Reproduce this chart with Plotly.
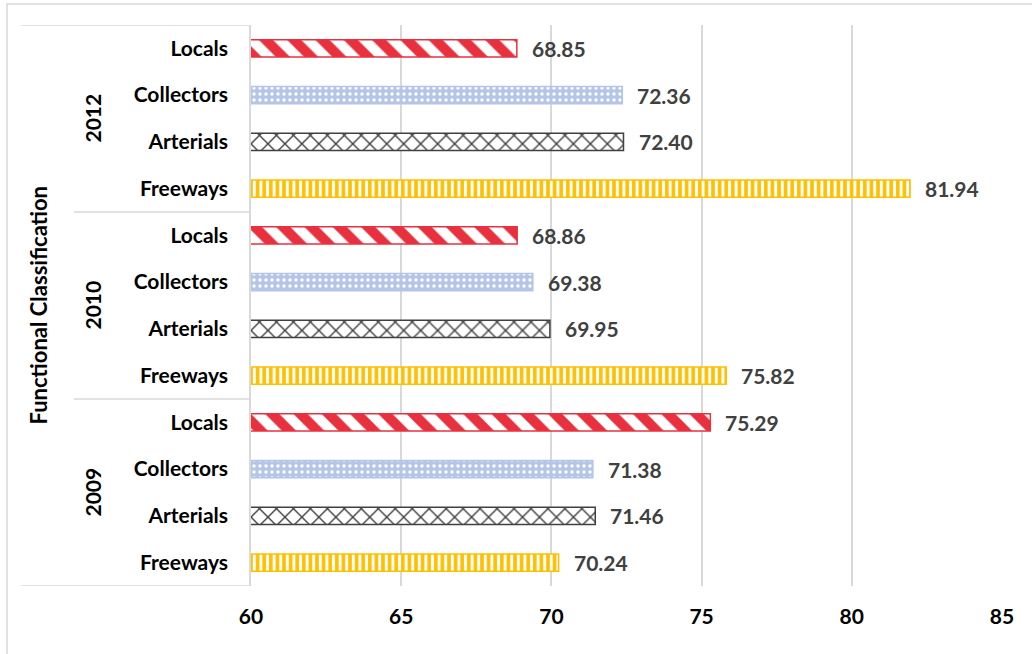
import plotly.graph_objects as go

# Functional classes (bottom to top inside each year) and the years (bottom to top)
years = ["2009", "2010", "2012"]
classes = ["Freeways", "Arterials", "Collectors", "Locals"]

values = {
    "Freeways":   [70.24, 75.82, 81.94],
    "Arterials":  [71.46, 69.95, 72.40],
    "Collectors": [71.38, 69.38, 72.36],
    "Locals":     [75.29, 68.86, 68.85],
}

x_ticks = [60, 65, 70, 75, 80, 85]

styles = {
    "Freeways":   dict(color="#FFC000", line="#FFC000",
                       pattern=dict(shape="|", fgcolor="white", bgcolor="#FFC000",
                                    size=6.6, solidity=0.45, fgopacity=1)),
    "Arterials":  dict(color="#404040", line="#404040",
                       pattern=dict(shape="x", fgcolor="#404040", bgcolor="white",
                                    size=12, solidity=0.22, fgopacity=1)),
    "Collectors": dict(color="#B4C5E7", line="#B4C5E7",
                       pattern=dict(shape=".", fgcolor="white", bgcolor="#B4C5E7",
                                    size=6, solidity=0.25, fgopacity=1)),
    "Locals":     dict(color="#E8303F", line="#E8303F",
                       pattern=dict(shape="\\", fgcolor="#E8303F", bgcolor="white",
                                    size=20, solidity=0.5, fgopacity=1)),
}

FONT = "Lato"
FS = 21

# category ids, bottom to top
cat_ids = [f"{y} {c}" for y in years for c in classes]
cat_text = [c for y in years for c in classes]

fig = go.Figure()
for c in classes:
    st = styles[c]
    fig.add_trace(go.Bar(
        orientation="h",
        y=[f"{y} {c}" for y in years],
        x=values[c],
        width=0.37,
        marker=dict(color=st["color"], opacity=1,
                    line=dict(color=st["line"], width=1.5),
                    pattern=st["pattern"]),
        showlegend=False,
        hoverinfo="skip",
    ))
    # value labels at the bar ends
    for y, v in zip(years, values[c]):
        fig.add_annotation(x=v, y=f"{y} {c}", xref="x", yref="y",
                           text=f"{v:.2f}", showarrow=False, xanchor="left",
                           xshift=13, font=dict(family=FONT, size=FS, color="#404040",
                                                weight="bold"))

W, H = 1032, 654
L, R, T, B = 251, 30, 25, 68
pw, ph = W - L - R, H - T - B


def px_x(px):
    return (px - L) / pw


def px_y(py):
    return (H - B - py) / ph


shapes = []
# outer chart frame
shapes.append(dict(type="rect", xref="paper", yref="paper",
                   x0=px_x(7), x1=px_x(1045), y0=px_y(670), y1=px_y(4),
                   line=dict(color="#D9D9D9", width=1.5), layer="below"))
# year group separators on the category axis
n = len(classes)
for i in range(len(years) + 1):
    yb = i * n - 0.5
    outer = i == 0 or i == len(years)
    shapes.append(dict(type="line", xref="paper", yref="y",
                       x0=px_x(21 if outer else 74), x1=px_x(250), y0=yb, y1=yb,
                       line=dict(color="#D9D9D9", width=1.5)))

# year labels
for i, y in enumerate(years):
    fig.add_annotation(x=px_x(92), y=i * n + (n - 1) / 2, xref="paper", yref="y",
                       xanchor="center", yanchor="middle",
                       text=y, showarrow=False, textangle=-90,
                       font=dict(family=FONT, size=FS, color="black", weight="bold"))

# axis title
fig.add_annotation(x=px_x(38), y=0.5, xref="paper", yref="paper",
                   xanchor="center", yanchor="middle",
                   text="Functional Classification", showarrow=False, textangle=-90,
                   font=dict(family=FONT, size=22, color="black", weight="bold"))

fig.update_layout(
    width=W, height=H,
    margin=dict(l=L, r=R, t=T, b=B),
    paper_bgcolor="white", plot_bgcolor="white",
    barmode="overlay",
    shapes=shapes,
    xaxis=dict(range=[60, 85], tickvals=x_ticks, ticktext=[str(t) for t in x_ticks],
               showgrid=True, gridcolor="#D9D9D9", gridwidth=1.5, zeroline=False,
               showline=False, ticks="", ticklabelstandoff=16,
               tickfont=dict(family=FONT, size=FS, color="black", weight="bold")),
    yaxis=dict(type="category", categoryorder="array", categoryarray=cat_ids,
               tickvals=cat_ids, ticktext=cat_text, range=[-0.5, len(cat_ids) - 0.5],
               showline=True, linecolor="#D9D9D9", linewidth=1.5, ticks="",
               ticklabelstandoff=17, showgrid=False,
               tickfont=dict(family=FONT, size=FS, color="black", weight="bold")),
)

fig.write_html("out.html")
